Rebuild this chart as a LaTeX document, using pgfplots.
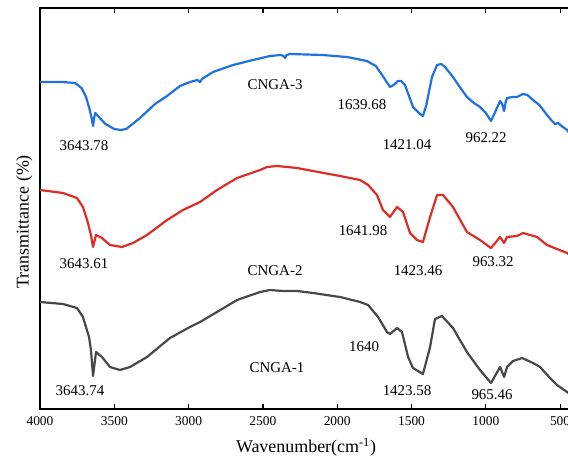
\documentclass[border=0pt]{standalone}
\usepackage{fontspec}
\setmainfont{Liberation Serif}
\usepackage{pgfplots}
\pgfplotsset{compat=1.18}

\definecolor{cblue}{RGB}{30,112,230}
\definecolor{cred}{RGB}{220,45,38}
\definecolor{cgray}{RGB}{72,72,72}

\begin{document}
\begin{tikzpicture}
\begin{axis}[
  name=ax,
  scale only axis,
  width=532bp, height=401bp,
  x dir=reverse,
  xmin=420, xmax=4000, ymin=0, ymax=401,
  xtick={500,1000,...,4000},
  ytick=\empty,
  tick align=inside,
  major tick length=5bp,
  axis line style={line width=1.2bp},
  every tick/.style={line width=1.2bp, black},
  /pgf/number format/assume math mode=true,
  /pgf/number format/set thousands separator={},
  tick label style={font=\fontsize{13.5}{15}\selectfont},
  xticklabel style={yshift=-4bp},
  xlabel={Wavenumber(cm\textsuperscript{-1})},
  xlabel style={font=\fontsize{18}{20}\selectfont, yshift=-6bp},
  ylabel={Transmittance (\%)},
  ylabel style={font=\fontsize{18}{20}\selectfont, at={(rel axis cs:0,0.467)}, yshift=4bp},
  every axis plot/.append style={line width=2.2bp, line join=round},
  clip=true,
]
% CNGA-3
\addplot[color=cblue] coordinates {
(4000,327)(3850,327)(3764,326)(3720,321)(3690,312)(3665,299)(3650,289)(3643,283)
(3636,291)(3628,296)(3610,293)(3560,285)(3500,280)(3455,279)(3420,280)(3394,283)
(3327,291)(3226,305)(3145,313)(3058,323)(2991,327)(2940,329)(2923,327)(2910,330)
(2836,337)(2701,344)(2567,349)(2452,353)(2380,354)(2360,353)(2351,351)(2340,354)
(2318,355)(2100,354)(1934,352)(1800,348)(1740,343)(1712,337)(1680,330)(1645,322)
(1620,324)(1591,328)(1570,328)(1544,324)(1490,302)(1450,296)(1423,293)(1400,304)
(1380,319)(1362,332)(1328,344)(1300,345)(1275,342)(1221,332)(1180,323)(1127,312)
(1080,306)(1039,302)(1000,296)(965,288)(940,296)(904,308)(890,305)(877,298)
(865,308)(857,311)(820,312)(790,312)(750,315)(720,314)(682,309)(640,304)
(588,294)(560,289)(534,285)(514,286)(490,283)(453,279)(445,277)
};
% CNGA-2
\addplot[color=cred] coordinates {
(4000,219)(3845,216)(3751,211)(3711,202)(3677,186)(3657,174)(3643,162)(3623,174)
(3583,171)(3529,164)(3448,162)(3374,166)(3280,174)(3145,189)(3038,199)(2923,207)
(2809,219)(2674,231)(2519,239)(2472,242)(2405,243)(2270,241)(2163,238)(1981,233)
(1846,229)(1792,224)(1732,214)(1692,199)(1645,192)(1597,202)(1557,197)(1510,176)
(1463,169)(1423,167)(1375,192)(1328,214)(1288,214)(1221,202)(1127,177)(1039,169)
(965,161)(904,172)(877,166)(857,172)(790,173)(750,176)(655,172)(588,164)
(521,160)(453,156)(445,155)
};
% CNGA-1
\addplot[color=cgray] coordinates {
(4000,107)(3845,105)(3751,101)(3711,92)(3670,72)(3657,59)(3643,33)(3623,57)
(3583,52)(3529,42)(3462,39)(3394,42)(3280,52)(3125,71)(2991,82)(2923,87)
(2809,97)(2674,109)(2519,117)(2452,119)(2365,118)(2270,118)(2163,116)(1981,112)
(1846,107)(1792,104)(1725,92)(1665,77)(1645,75)(1597,81)(1564,77)(1523,52)
(1490,41)(1423,35)(1375,62)(1342,90)(1295,93)(1221,81)(1127,57)(1039,39)
(965,26)(904,42)(877,32)(857,42)(817,48)(756,51)(682,46)(635,42)
(568,31)(521,24)(453,17)(445,16)
};
\begin{scope}[every node/.style={font=\fontsize{15}{17}\selectfont, inner sep=0pt}]
\node at (axis cs:2418,324) {CNGA-3};
\node at (axis cs:3704,263) {3643.78};
\node at (axis cs:1833,304) {1639.68};
\node at (axis cs:1530,264) {1421.04};
\node at (axis cs:998,271) {962.22};
\node at (axis cs:2418,138) {CNGA-2};
\node at (axis cs:3704,145) {3643.61};
\node at (axis cs:1826,178) {1641.98};
\node at (axis cs:1456,138) {1423.46};
\node at (axis cs:951,147) {963.32};
\node at (axis cs:2405,41) {CNGA-1};
\node at (axis cs:3731,18) {3643.74};
\node at (axis cs:1819,62) {1640};
\node at (axis cs:1530,18) {1423.58};
\node at (axis cs:958,14) {965.46};
\end{scope}
\end{axis}
\pgfresetboundingbox
\path ([xshift=-40bp,yshift=-51bp]ax.south west) rectangle ([xshift=-4bp,yshift=8bp]ax.north east);
\end{tikzpicture}
\end{document}
